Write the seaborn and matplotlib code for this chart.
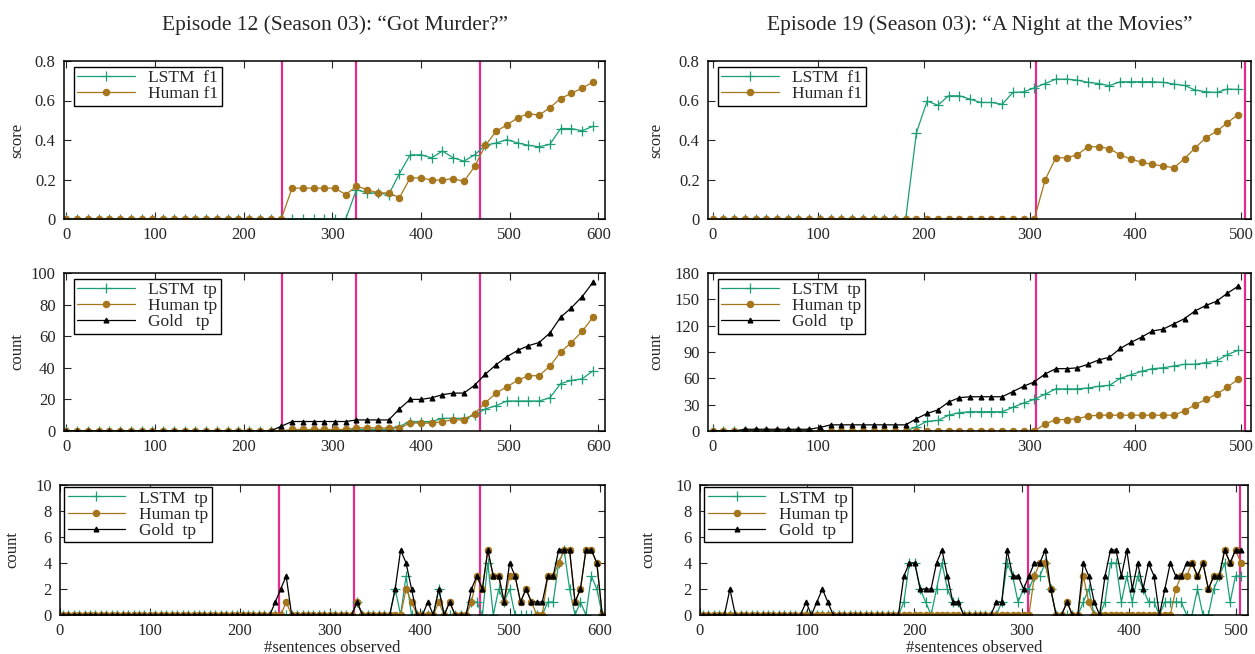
import numpy as np
import matplotlib
matplotlib.use("Agg")
import matplotlib.pyplot as plt
import seaborn as sns
from matplotlib.ticker import FuncFormatter

sns.set_style("ticks")
plt.rcParams["font.family"] = ["Liberation Serif", "DejaVu Serif"]

# ---------------- data: Episode 12 ("Got Murder?") ----------------
step_ep12 = 12.12      # sentences per sample in the top / middle rows
bin_ep12 = 6.06        # sentences per bin in the bottom row
breaks_ep12 = [243, 327, 467]

lstm_f1_ep12 = [0, 0, 0, 0, 0, 0, 0, 0, 0, 0,
                0, 0, 0, 0, 0, 0, 0, 0, 0, 0,
                0, 0, 0, 0, 0, 0, 0, 0.149, 0.132, 0.132,
                0.124, 0.23, 0.325, 0.325, 0.31, 0.344, 0.31, 0.293, 0.325, 0.373,
                0.385, 0.402, 0.385, 0.373, 0.366, 0.378, 0.458, 0.458, 0.447, 0.469]
human_f1_ep12 = [0, 0, 0, 0, 0, 0, 0, 0, 0, 0,
                 0, 0, 0, 0, 0, 0, 0, 0, 0, 0,
                 0, 0.156, 0.156, 0.156, 0.156, 0.156, 0.124, 0.166, 0.149, 0.132,
                 0.132, 0.108, 0.208, 0.208, 0.197, 0.197, 0.205, 0.19, 0.266, 0.373,
                 0.444, 0.476, 0.512, 0.534, 0.525, 0.564, 0.61, 0.636, 0.663, 0.692]

lstm_tp_ep12 = [0, 0, 0, 0, 0, 0, 0, 0, 0, 0,
                0, 0, 0, 0, 0, 0, 0, 0, 0, 0,
                0, 0, 0, 0, 0, 0, 0, 1, 1, 1,
                1, 3, 6, 6, 6, 8, 8, 8, 10, 14,
                16, 19, 19, 19, 19, 21, 30, 32, 33, 38]
human_tp_ep12 = [0, 0, 0, 0, 0, 0, 0, 0, 0, 0,
                 0, 0, 0, 0, 0, 0, 0, 0, 0, 0,
                 0, 1, 1, 1, 1, 1, 1, 2, 2, 2,
                 2, 2, 5, 5, 5, 6, 7, 7, 11, 18,
                 24, 28, 32, 35, 35, 41, 50, 56, 63, 72]
gold_tp_ep12 = [0, 0, 0, 0, 0, 0, 0, 0, 0, 0,
                0, 0, 0, 0, 0, 0, 0, 0, 0, 0,
                3, 6, 6, 6, 6, 6, 6, 7, 7, 7,
                7, 14, 20, 20, 21, 23, 24, 24, 29, 36,
                42, 47, 51, 54, 56, 62, 72, 78, 85, 94]

lstm_bin_ep12 = [0, 0, 0, 0, 0, 0, 0, 0, 0, 0,
                 0, 0, 0, 0, 0, 0, 0, 0, 0, 0,
                 0, 0, 0, 0, 0, 0, 0, 0, 0, 0,
                 0, 0, 0, 0, 0, 0, 0, 0, 0, 0,
                 0, 0, 0, 0, 0, 0, 0, 0, 0, 0,
                 0, 0, 0, 0, 1, 0, 0, 0, 0, 0,
                 0, 2, 0, 3, 0, 0, 0, 0, 0, 2,
                 0, 0, 0, 0, 0, 1, 1, 0, 4, 0,
                 2, 1, 2, 0, 0, 0, 0, 0, 0, 1,
                 1, 4, 5, 2, 0, 1, 0, 3, 2, 0]
human_bin_ep12 = [0, 0, 0, 0, 0, 0, 0, 0, 0, 0,
                  0, 0, 0, 0, 0, 0, 0, 0, 0, 0,
                  0, 0, 0, 0, 0, 0, 0, 0, 0, 0,
                  0, 0, 0, 0, 0, 0, 0, 0, 0, 0,
                  0, 1, 0, 0, 0, 0, 0, 0, 0, 0,
                  0, 0, 0, 0, 1, 0, 0, 0, 0, 0,
                  0, 0, 0, 2, 1, 0, 0, 0, 0, 1,
                  0, 1, 0, 0, 0, 1, 3, 2, 5, 3,
                  3, 1, 3, 3, 1, 2, 1, 0, 0, 3,
                  3, 4, 5, 5, 1, 2, 5, 5, 4, 0]
gold_bin_ep12 = [0, 0, 0, 0, 0, 0, 0, 0, 0, 0,
                 0, 0, 0, 0, 0, 0, 0, 0, 0, 0,
                 0, 0, 0, 0, 0, 0, 0, 0, 0, 0,
                 0, 0, 0, 0, 0, 0, 0, 0, 0, 1,
                 2, 3, 0, 0, 0, 0, 0, 0, 0, 0,
                 0, 0, 0, 0, 1, 0, 0, 0, 0, 0,
                 0, 2, 5, 4, 2, 0, 0, 1, 0, 2,
                 0, 1, 0, 0, 0, 2, 3, 2, 5, 3,
                 3, 1, 4, 3, 1, 2, 1, 1, 1, 3,
                 3, 5, 5, 5, 1, 2, 5, 5, 4, 0]

# ---------------- data: Episode 19 ("A Night at the Movies") ----------------
step_ep19 = 10.15
bin_ep19 = 5.07
breaks_ep19 = [306, 504]

lstm_f1_ep19 = [0, 0, 0, 0, 0, 0, 0, 0, 0, 0,
                0, 0, 0, 0, 0, 0, 0, 0, 0, 0.437,
                0.597, 0.576, 0.624, 0.624, 0.607, 0.59, 0.59, 0.581, 0.641, 0.644,
                0.664, 0.686, 0.708, 0.708, 0.703, 0.692, 0.686, 0.675, 0.695, 0.695,
                0.695, 0.695, 0.692, 0.683, 0.676, 0.653, 0.644, 0.641, 0.658, 0.656]
human_f1_ep19 = [0, 0, 0, 0, 0, 0, 0, 0, 0, 0,
                 0, 0, 0, 0, 0, 0, 0, 0, 0, 0,
                 0, 0, 0, 0, 0, 0, 0, 0, 0, 0,
                 0, 0.198, 0.31, 0.31, 0.325, 0.366, 0.366, 0.356, 0.325, 0.303,
                 0.288, 0.276, 0.269, 0.259, 0.305, 0.361, 0.412, 0.444, 0.488, 0.529]

lstm_tp_ep19 = [0, 0, 0, 0, 0, 0, 0, 0, 0, 0,
                0, 0, 0, 0, 0, 0, 0, 0, 0, 5,
                11, 12, 18, 21, 22, 22, 22, 22, 27, 32,
                36, 42, 48, 48, 48, 49, 51, 52, 60, 64,
                68, 71, 72, 74, 76, 76, 78, 80, 87, 92]
human_tp_ep19 = [0, 0, 0, 0, 0, 0, 0, 0, 0, 0,
                 0, 0, 0, 0, 0, 0, 0, 0, 0, 0,
                 0, 0, 0, 0, 0, 0, 0, 0, 0, 0,
                 0, 8, 13, 13, 14, 17, 18, 18, 18, 18,
                 18, 18, 18, 18, 23, 30, 36, 42, 50, 59]
gold_tp_ep19 = [0, 0, 0, 2, 2, 2, 2, 2, 2, 2,
                4, 7, 7, 7, 7, 7, 7, 7, 7, 14,
                20, 24, 33, 38, 39, 39, 39, 39, 45, 51,
                56, 65, 71, 71, 72, 76, 81, 84, 94, 101,
                107, 114, 116, 122, 128, 137, 143, 148, 157, 165]

lstm_bin_ep19 = [0, 0, 0, 0, 0, 0, 0, 0, 0, 0,
                 0, 0, 0, 0, 0, 0, 0, 0, 0, 0,
                 0, 0, 0, 0, 0, 0, 0, 0, 0, 0,
                 0, 0, 0, 0, 0, 0, 0, 1, 4, 4,
                 2, 1, 0, 2, 4, 2, 1, 1, 0, 0,
                 0, 0, 0, 0, 0, 1, 4, 3, 1, 2,
                 2, 3, 3, 4, 2, 0, 0, 0, 0, 0,
                 1, 2, 0, 0, 1, 4, 4, 1, 3, 1,
                 3, 2, 1, 1, 0, 1, 1, 1, 1, 0,
                 0, 2, 0, 0, 2, 3, 4, 1, 3, 3]
human_bin_ep19 = [0, 0, 0, 0, 0, 0, 0, 0, 0, 0,
                  0, 0, 0, 0, 0, 0, 0, 0, 0, 0,
                  0, 0, 0, 0, 0, 0, 0, 0, 0, 0,
                  0, 0, 0, 0, 0, 0, 0, 0, 0, 0,
                  0, 0, 0, 0, 0, 0, 0, 0, 0, 0,
                  0, 0, 0, 0, 0, 0, 0, 0, 0, 0,
                  0, 3, 4, 4, 2, 0, 0, 1, 0, 0,
                  3, 1, 0, 0, 0, 0, 0, 0, 0, 0,
                  0, 0, 0, 0, 0, 0, 0, 2, 3, 3,
                  4, 3, 4, 2, 3, 3, 5, 4, 5, 4]
gold_bin_ep19 = [0, 0, 0, 0, 0, 2, 0, 0, 0, 0,
                 0, 0, 0, 0, 0, 0, 0, 0, 0, 1,
                 0, 1, 2, 1, 0, 0, 0, 0, 0, 0,
                 0, 0, 0, 0, 0, 0, 0, 3, 4, 4,
                 2, 2, 2, 4, 5, 3, 1, 1, 0, 0,
                 0, 0, 0, 0, 1, 1, 5, 3, 3, 2,
                 3, 4, 4, 5, 2, 0, 0, 1, 0, 0,
                 4, 3, 1, 0, 3, 5, 5, 3, 5, 2,
                 4, 2, 4, 3, 0, 2, 4, 3, 3, 4,
                 4, 3, 4, 2, 3, 3, 5, 4, 5, 5]

titles = ["Episode 12 (Season 03): \u201cGot Murder?\u201d",
          "Episode 19 (Season 03): \u201cA Night at the Movies\u201d"]

# ---------------- styling ----------------
C_LSTM = "#1b9e77"
C_HUMAN = "#a6761d"
C_GOLD = "#000000"
C_BREAK = "#e7298a"

W, H = 1255, 654
fig = plt.figure(figsize=(W / 100, H / 100), dpi=100)


def px_axes(x0, y0, x1, y1):
    return fig.add_axes([x0 / W, 1 - y1 / H, (x1 - x0) / W, (y1 - y0) / H])


def style_axes(ax, xlim, ylim, yticks, ylabel, ylab_x, breaks):
    for b in breaks:
        ax.axvline(b, color=C_BREAK, lw=1.6, zorder=1)
    ax.set_xticks([t for t in [0, 100, 200, 300, 400, 500, 600] if t <= xlim[1]])
    ax.set_yticks(yticks)
    ax.set_xlim(*xlim)
    ax.set_ylim(*ylim)
    ax.yaxis.set_major_formatter(FuncFormatter(lambda v, p: "%g" % v))
    ax.tick_params(direction="in", top=True, right=True, length=5, width=0.8,
                   labelsize=12, pad=6)
    for s in ax.spines.values():
        s.set_linewidth(1.1)
        s.set_color("black")
    ax.set_xlabel("")
    ax.set_ylabel(ylabel, fontsize=12)
    ax.yaxis.set_label_coords(ylab_x, 0.5)


def draw(ax, x, series, anchor):
    for y, color, marker, ms, label in series:
        sns.lineplot(x=x, y=y, ax=ax, color=color, marker=marker, markersize=ms,
                     markeredgecolor=color, markerfacecolor=color,
                     markeredgewidth=0.9, linewidth=0.9, label=label,
                     estimator=None, sort=False, zorder=2)
    ax.legend(loc="upper left", bbox_to_anchor=anchor, borderaxespad=0,
              fontsize=12.5, frameon=True, fancybox=False, framealpha=1,
              edgecolor="black", handlelength=3.3, handletextpad=0.8,
              labelspacing=0.0, borderpad=0.2)
    ax.get_legend().get_frame().set_linewidth(1.0)


columns = [
    dict(step=step_ep12, binw=bin_ep12, breaks=breaks_ep12, title=titles[0],
         f1=(lstm_f1_ep12, human_f1_ep12),
         tp=(lstm_tp_ep12, human_tp_ep12, gold_tp_ep12),
         bins=(lstm_bin_ep12, human_bin_ep12, gold_bin_ep12),
         boxes=[(64, 61, 605, 219), (64, 273, 605, 431), (60, 485, 605, 615)],
         xlims=[(-2.7, 607.6), (-2.7, 607.6), (0, 606)],
         mid_ylim=(0, 100), mid_ticks=[0, 20, 40, 60, 80, 100],
         ylab_x=-0.072),
    dict(step=step_ep19, binw=bin_ep19, breaks=breaks_ep19, title=titles[1],
         f1=(lstm_f1_ep19, human_f1_ep19),
         tp=(lstm_tp_ep19, human_tp_ep19, gold_tp_ep19),
         bins=(lstm_bin_ep19, human_bin_ep19, gold_bin_ep19),
         boxes=[(708, 61, 1251, 219), (708, 273, 1251, 431), (700, 485, 1248, 615)],
         xlims=[(-4.4, 509.5), (-4.4, 509.5), (0, 511)],
         mid_ylim=(0, 180), mid_ticks=[0, 30, 60, 90, 120, 150, 180],
         ylab_x=-0.08),
]

for col in columns:
    x = np.arange(len(col["f1"][0])) * col["step"]
    xb = (np.arange(len(col["bins"][0])) + 0.5) * col["binw"]

    # top: f1 score
    ax = px_axes(*col["boxes"][0])
    draw(ax, x, [(col["f1"][0], C_LSTM, "+", 7, "LSTM  f1"),
                 (col["f1"][1], C_HUMAN, "o", 4.5, "Human f1")], (0.018, 0.965))
    style_axes(ax, col["xlims"][0], (0, 0.8), [0, 0.2, 0.4, 0.6, 0.8], "score",
               col["ylab_x"], col["breaks"])
    ax.set_title(col["title"], fontsize=15.5, pad=22)

    # middle: cumulative true positives
    ax = px_axes(*col["boxes"][1])
    draw(ax, x, [(col["tp"][0], C_LSTM, "+", 7, "LSTM  tp"),
                 (col["tp"][1], C_HUMAN, "o", 4.5, "Human tp"),
                 (col["tp"][2], C_GOLD, "^", 3.5, "Gold   tp")], (0.018, 0.965))
    style_axes(ax, col["xlims"][1], col["mid_ylim"], col["mid_ticks"], "count",
               col["ylab_x"], col["breaks"])

    # bottom: true positives per bin
    ax = px_axes(*col["boxes"][2])
    draw(ax, xb, [(col["bins"][0], C_LSTM, "+", 7, "LSTM  tp"),
                  (col["bins"][1], C_HUMAN, "o", 4.5, "Human tp"),
                  (col["bins"][2], C_GOLD, "^", 3.5, "Gold  tp")], (0.008, 0.985))
    style_axes(ax, col["xlims"][2], (0, 10), [0, 2, 4, 6, 8, 10], "count",
               col["ylab_x"], col["breaks"])
    ax.set_xlabel("#sentences observed", fontsize=12, labelpad=0)
    ax.xaxis.set_label_coords(0.5, -0.19)

fig.savefig("out.png", dpi=100)
